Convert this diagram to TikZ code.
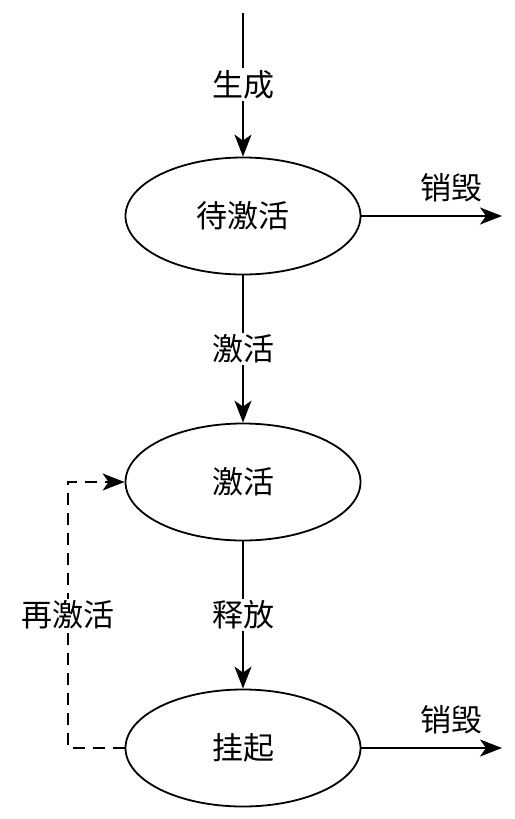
\documentclass[tikz,border=0pt]{standalone}
\usepackage{fontspec}
\setmainfont{Noto Sans CJK SC}
\usetikzlibrary{arrows.meta,shapes.geometric}

\tikzset{
  state/.style={draw, ellipse, line width=1.8pt, minimum width=235pt, minimum height=117pt, inner sep=0pt},
  lab/.style={fill=white, inner sep=2pt},
  flow/.style={line width=1.8pt, -{Stealth[length=22pt, width=17pt, inset=6pt]}},
  redo/.style={flow, dash pattern=on 12pt off 8pt}
}

\begin{document}
\begin{tikzpicture}[x=1pt, y=-1pt, every node/.style={font=\fontsize{31}{31}\selectfont}]
        \useasboundingbox (0,0) rectangle (514,819);
        % states
        \node[state] (wait) at (243,216) {待激活};
        \node[state] (act)  at (243,482) {激活};
        \node[state] (hang) at (243,748) {挂起};
        \coordinate (start) at (243,13);
        \coordinate (gone1) at (502,216);
        \coordinate (gone2) at (502,748);
        % transitions
        \draw[flow] (start) -- node[lab] {生成} (wait);
        \draw[flow] (wait) -- node[lab] {激活} (act);
        \draw[flow] (act) -- node[lab] {释放} (hang);
        \draw[flow] (wait.east) -- node[pos=0.64, above=10pt] {销毁} (gone1);
        \draw[flow] (hang.east) -- node[pos=0.64, above=10pt] {销毁} (gone2);
        \draw[redo] (hang.west) -- (68,748) |- node[lab, pos=0.25] {再激活} (act.west);
      \end{tikzpicture}
\end{document}
